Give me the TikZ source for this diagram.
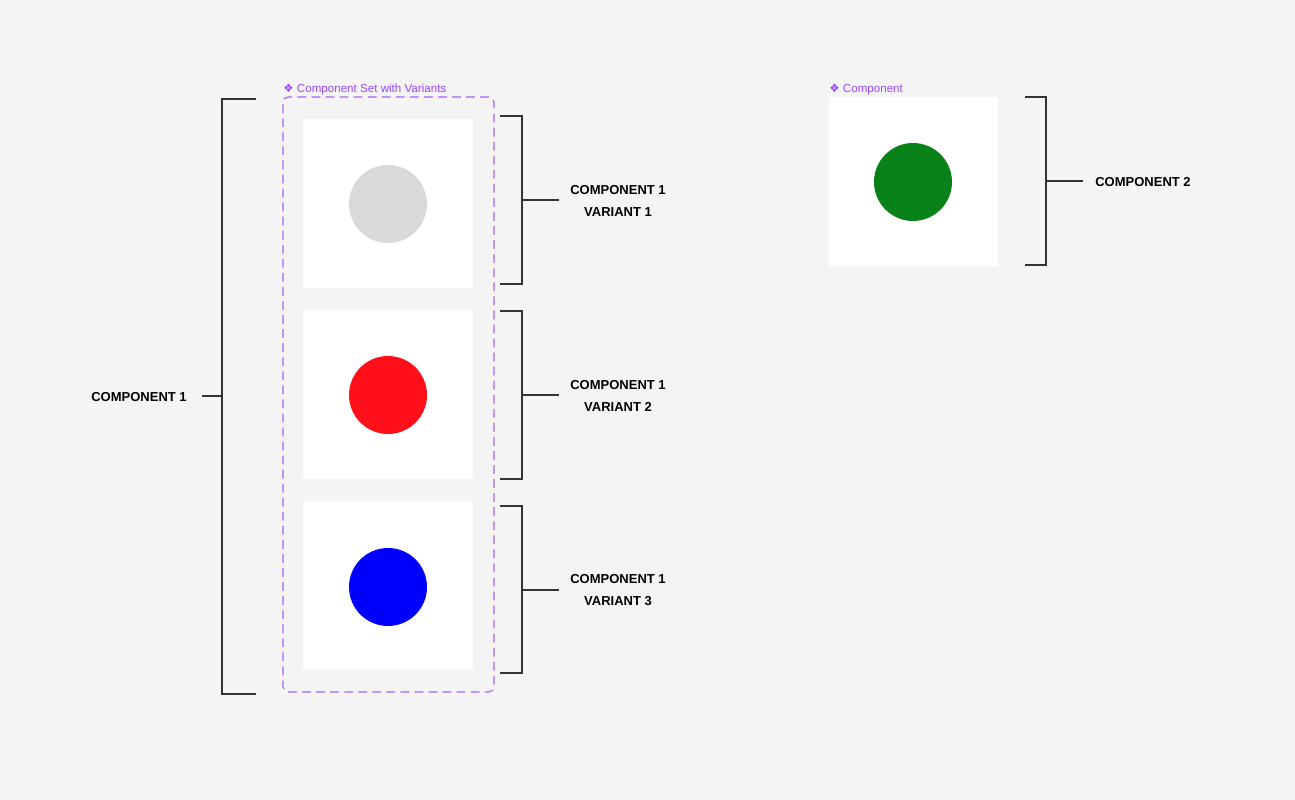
\documentclass[tikz,border=0pt]{standalone}
\usepackage{fontspec}
\setmainfont{Liberation Sans}
\newfontfamily\symfont{DejaVu Sans}
\definecolor{bg}{HTML}{F4F4F4}
\definecolor{figpurple}{HTML}{9747FF}
\definecolor{framepurple}{HTML}{A463FF}
\definecolor{linegray}{HTML}{333333}
\definecolor{cgray}{HTML}{D9D9D9}
\definecolor{cred}{HTML}{FF0F1A}
\definecolor{cblue}{HTML}{0000FF}
\definecolor{cgreen}{HTML}{088218}
\begin{document}
\begin{tikzpicture}[x=0.02cm,y=-0.02cm,
  tile/.style={fill=white,draw=none,minimum size=3.4cm,inner sep=0pt},
  dot/.style={circle,draw=none,minimum size=1.56cm,inner sep=0pt},
  brk/.style={draw=linegray,line width=0.7pt},
  lbl/.style={font=\fontsize{7.4pt}{12.6pt}\selectfont\bfseries,align=center,text=black,inner sep=0pt},
  tag/.style={font=\fontsize{6.6pt}{8pt}\selectfont,text=figpurple,anchor=west,inner sep=0pt}]
\fill[bg] (0,0) rectangle (1295,800);
\useasboundingbox (0,0) rectangle (1295,800);
% component set frame
\node[draw=framepurple,line width=0.65pt,dash pattern=on 5pt off 3pt,rounded corners=0.1cm,
  minimum width=4.22cm,minimum height=11.9cm,inner sep=0pt] (set) at (388.5,394.5) {};
\node[tag] (settag) at (283,89.5) {{\symfont ❖} Component Set with Variants};
% tiles
\node[tile] (t1) at (388,203.5) {};
\node[tile] (t2) at (388,394.5) {};
\node[tile] (t3) at (388,585.5) {};
\node[dot,fill=cgray] (c1) at (388,204) {};
\node[dot,fill=cred] (c2) at (388,395) {};
\node[dot,fill=cblue] (c3) at (388,587) {};
% variant brackets
\coordinate (b1t) at (500,116); \coordinate (b1b) at (500,284); \coordinate (b1m) at (522,200);
\coordinate (b2t) at (500,311); \coordinate (b2b) at (500,479); \coordinate (b2m) at (522,395);
\coordinate (b3t) at (500,506); \coordinate (b3b) at (500,673); \coordinate (b3m) at (522,590);
\node[lbl] (l1) at (618,201) {COMPONENT 1\\VARIANT 1};
\node[lbl] (l2) at (618,396) {COMPONENT 1\\VARIANT 2};
\node[lbl] (l3) at (618,590) {COMPONENT 1\\VARIANT 3};
\draw[brk] (b1t) -| (b1b -| b1m) -- (b1b);
\draw[brk] (b1m) -- ++(37,0) coordinate (e1);
\draw[brk] (b2t) -| (b2b -| b2m) -- (b2b);
\draw[brk] (b2m) -- ++(37,0) coordinate (e2);
\draw[brk] (b3t) -| (b3b -| b3m) -- (b3b);
\draw[brk] (b3m) -- ++(37,0) coordinate (e3);
% outer bracket
\coordinate (ot) at (256,99); \coordinate (ob) at (256,694); \coordinate (om) at (222,396);
\draw[brk] (ot) -| (ob -| om) -- (ob);
\node[lbl] (l0) at (139,397) {COMPONENT 1};
\draw[brk] (om) -- (202,396) coordinate (e0);
% component 2
\node[tag] (ctag) at (829,89.5) {{\symfont ❖} Component};
\node[tile] (t4) at (913.5,181.5) {};
\node[dot,fill=cgreen] (c4) at (913,182) {};
\coordinate (dt) at (1025,97); \coordinate (db) at (1025,265); \coordinate (dm) at (1046,181);
\draw[brk] (dt) -| (db -| dm) -- (db);
\draw[brk] (dm) -- (1083,181) coordinate (e4);
\node[lbl] (l4) at (1143,182) {COMPONENT 2};
\end{tikzpicture}
\end{document}
